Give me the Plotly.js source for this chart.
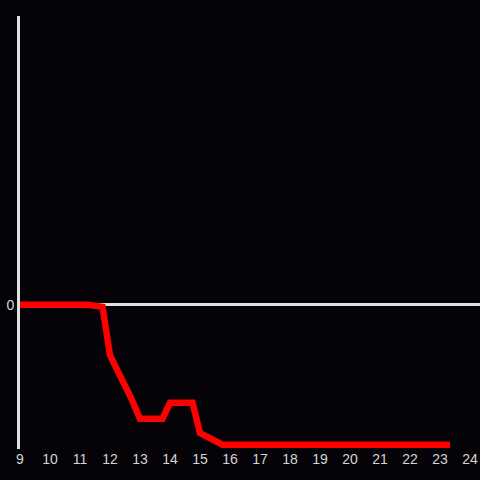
<!DOCTYPE html>
<html>
<head>
<meta charset="utf-8">
<script src="https://cdn.plot.ly/plotly-3.0.1.min.js"></script>
<style>html,body{margin:0;padding:0;background:#050307;}</style>
</head>
<body>
<div id="chart" style="width:480px;height:480px;"></div>
<script>
const hours = [9, 11.25, 11.75, 12, 12.7, 13, 13.75, 14, 14.75, 15, 15.75, 23.33];
const values = [0, 0, -0.015, -0.35, -0.645, -0.79, -0.79, -0.68, -0.68, -0.89, -0.97, -0.97];
const xTicks = [9,10,11,12,13,14,15,16,17,18,19,20,21,22,23,24];
const yTicks = [0];

const tickFont = {family: 'Liberation Sans, Arial, sans-serif', size: 14, color: '#d4d4d4'};

Plotly.newPlot('chart', [{
  x: hours,
  y: values,
  type: 'scatter',
  mode: 'lines',
  line: {color: '#ff0000', width: 6.5},
  hoverinfo: 'skip'
}], {
  width: 480,
  height: 480,
  paper_bgcolor: '#050307',
  plot_bgcolor: '#050307',
  margin: {l: 20, r: 0, t: 16, b: 31, pad: 0},
  showlegend: false,
  font: {family: 'Liberation Sans, Arial, sans-serif', color: '#d4d4d4', size: 14},
  xaxis: {
    range: [9, 24.333],
    tickvals: xTicks,
    ticktext: xTicks.map(String),
    tickfont: tickFont,
    showgrid: false,
    zeroline: false,
    showline: false,
    ticks: ''
  },
  yaxis: {
    range: [-1, 2],
    tickvals: yTicks,
    ticktext: yTicks.map(String),
    tickfont: tickFont,
    showgrid: false,
    zeroline: true,
    zerolinecolor: '#e0e0e0',
    zerolinewidth: 3,
    showline: true,
    linecolor: '#e0e0e0',
    linewidth: 3,
    ticks: ''
  }
}, {staticPlot: true});
</script>
</body>
</html>
